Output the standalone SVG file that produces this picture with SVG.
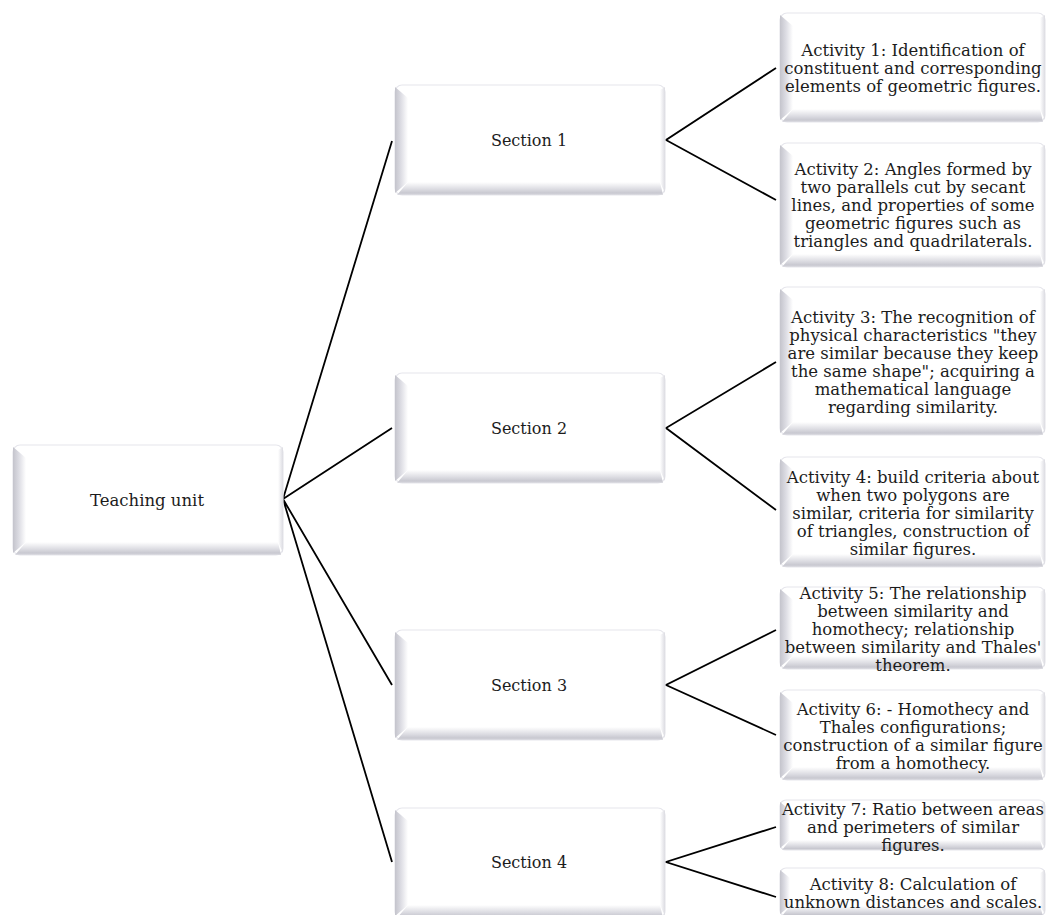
<svg xmlns="http://www.w3.org/2000/svg" width="1047" height="915" viewBox="0 0 1047 915">
<defs>
<linearGradient id="gL" x1="0" y1="0" x2="1" y2="0">
<stop offset="0" stop-color="#c4c4cc"/>
<stop offset="0.45" stop-color="#dcdce3"/>
<stop offset="1" stop-color="#ffffff"/>
</linearGradient>
<linearGradient id="gB" x1="0" y1="0" x2="0" y2="1">
<stop offset="0" stop-color="#ffffff"/>
<stop offset="0.55" stop-color="#dcdce2"/>
<stop offset="0.85" stop-color="#c8c8d0"/>
<stop offset="1" stop-color="#dedee4"/>
</linearGradient>
<linearGradient id="gR" x1="0" y1="0" x2="1" y2="0">
<stop offset="0" stop-color="#ffffff"/>
<stop offset="1" stop-color="#dcdce2"/>
</linearGradient>
</defs>
<style>
.box{fill:#ffffff;stroke:#e6e6ec;stroke-width:1.2}
.bl{fill:url(#gL)}
.bb{fill:url(#gB)}
.br{fill:url(#gR)}
.t{font-family:"DejaVu Serif","Liberation Serif",serif;font-size:16.5px;fill:#1c1c1c;text-anchor:middle}
.s{font-size:16px}
.c{stroke:#000000;stroke-width:1.8;fill:none;stroke-linejoin:miter}
</style>
<rect width="1047" height="915" fill="#ffffff"/>

<g id="connectors">
<path class="c" d="M283,499 L392,141 M283,499 L392,428 M283,499 L392,685 M283,499 L392,862"/>
<polyline class="c" points="776,68 666,140 776,200"/>
<polyline class="c" points="776,362 666,428 776,510"/>
<polyline class="c" points="776,630 666,685 776,735"/>
<polyline class="c" points="776,827 666,862 776,897"/>
</g>

<g id="teaching-unit">
<rect class="box" x="13" y="445" width="270" height="110" rx="7"/>
<polygon class="bl" points="13,447 26,458 26,542 13,553"/>
<polygon class="bb" points="15,555 26,542 278,542 281,555"/>
<polygon class="br" points="283,447 278,450 278,542 283,553"/>
<text class="t" x="147" y="506">Teaching unit</text>
</g>

<g id="section-1">
<rect class="box" x="395" y="85" width="270" height="110" rx="7"/>
<polygon class="bl" points="395,87 408,98 408,182 395,193"/>
<polygon class="bb" points="397,195 408,182 660,182 663,195"/>
<polygon class="br" points="665,87 660,90 660,182 665,193"/>
<text class="t s" x="529" y="146">Section 1</text>
</g>

<g id="section-2">
<rect class="box" x="395" y="373" width="270" height="110" rx="7"/>
<polygon class="bl" points="395,375 408,386 408,470 395,481"/>
<polygon class="bb" points="397,483 408,470 660,470 663,483"/>
<polygon class="br" points="665,375 660,378 660,470 665,481"/>
<text class="t s" x="529" y="434">Section 2</text>
</g>

<g id="section-3">
<rect class="box" x="395" y="630" width="270" height="110" rx="7"/>
<polygon class="bl" points="395,632 408,643 408,727 395,738"/>
<polygon class="bb" points="397,740 408,727 660,727 663,740"/>
<polygon class="br" points="665,632 660,635 660,727 665,738"/>
<text class="t s" x="529" y="691">Section 3</text>
</g>

<g id="section-4">
<rect class="box" x="395" y="808" width="270" height="110" rx="7"/>
<polygon class="bl" points="395,810 408,821 408,905 395,916"/>
<polygon class="bb" points="397,918 408,905 660,905 663,918"/>
<polygon class="br" points="665,810 660,813 660,905 665,916"/>
<text class="t s" x="529" y="868">Section 4</text>
</g>

<g id="activity-1">
<rect class="box" x="780" y="13" width="265" height="109" rx="7"/>
<polygon class="bl" points="780,15 793,26 793,109 780,120"/>
<polygon class="bb" points="782,122 793,109 1040,109 1043,122"/>
<polygon class="br" points="1045,15 1040,18 1040,109 1045,120"/>
<text class="t"><tspan x="913" y="56">Activity 1: Identification of</tspan><tspan x="913" y="74">constituent and corresponding</tspan><tspan x="913" y="92">elements of geometric figures.</tspan></text>
</g>

<g id="activity-2">
<rect class="box" x="780" y="143" width="265" height="124" rx="7"/>
<polygon class="bl" points="780,145 793,156 793,254 780,265"/>
<polygon class="bb" points="782,267 793,254 1040,254 1043,267"/>
<polygon class="br" points="1045,145 1040,148 1040,254 1045,265"/>
<text class="t"><tspan x="913" y="175">Activity 2: Angles formed by</tspan><tspan x="913" y="193">two parallels cut by secant</tspan><tspan x="913" y="211">lines, and properties of some</tspan><tspan x="913" y="229">geometric figures such as</tspan><tspan x="913" y="247">triangles and quadrilaterals.</tspan></text>
</g>

<g id="activity-3">
<rect class="box" x="780" y="287" width="265" height="148" rx="7"/>
<polygon class="bl" points="780,289 793,300 793,422 780,433"/>
<polygon class="bb" points="782,435 793,422 1040,422 1043,435"/>
<polygon class="br" points="1045,289 1040,292 1040,422 1045,433"/>
<text class="t"><tspan x="913" y="323">Activity 3: The recognition of</tspan><tspan x="913" y="341">physical characteristics "they</tspan><tspan x="913" y="359">are similar because they keep</tspan><tspan x="913" y="377">the same shape"; acquiring a</tspan><tspan x="913" y="395">mathematical language</tspan><tspan x="913" y="413">regarding similarity.</tspan></text>
</g>

<g id="activity-4">
<rect class="box" x="780" y="457" width="265" height="110" rx="7"/>
<polygon class="bl" points="780,459 793,470 793,554 780,565"/>
<polygon class="bb" points="782,567 793,554 1040,554 1043,567"/>
<polygon class="br" points="1045,459 1040,462 1040,554 1045,565"/>
<text class="t"><tspan x="913" y="483">Activity 4: build criteria about</tspan><tspan x="913" y="501">when two polygons are</tspan><tspan x="913" y="519">similar, criteria for similarity</tspan><tspan x="913" y="537">of triangles, construction of</tspan><tspan x="913" y="555">similar figures.</tspan></text>
</g>

<g id="activity-5">
<rect class="box" x="780" y="587" width="265" height="82" rx="7"/>
<polygon class="bl" points="780,589 793,600 793,656 780,667"/>
<polygon class="bb" points="782,669 793,656 1040,656 1043,669"/>
<polygon class="br" points="1045,589 1040,592 1040,656 1045,667"/>
<text class="t"><tspan x="913" y="599">Activity 5: The relationship</tspan><tspan x="913" y="617">between similarity and</tspan><tspan x="913" y="635">homothecy; relationship</tspan><tspan x="913" y="653">between similarity and Thales'</tspan><tspan x="913" y="671">theorem.</tspan></text>
</g>

<g id="activity-6">
<rect class="box" x="780" y="690" width="265" height="90" rx="7"/>
<polygon class="bl" points="780,692 793,703 793,767 780,778"/>
<polygon class="bb" points="782,780 793,767 1040,767 1043,780"/>
<polygon class="br" points="1045,692 1040,695 1040,767 1045,778"/>
<text class="t"><tspan x="913" y="715">Activity 6: - Homothecy and</tspan><tspan x="913" y="733">Thales configurations;</tspan><tspan x="913" y="751">construction of a similar figure</tspan><tspan x="913" y="769">from a homothecy.</tspan></text>
</g>

<g id="activity-7">
<rect class="box" x="780" y="800" width="265" height="50" rx="6"/>
<polygon class="bl" points="780,802 790,810 790,840 780,848"/>
<polygon class="bb" points="782,850 790,840 1040,840 1043,850"/>
<polygon class="br" points="1045,802 1040,805 1040,840 1045,848"/>
<text class="t"><tspan x="913" y="815">Activity 7: Ratio between areas</tspan><tspan x="913" y="833">and perimeters of similar</tspan><tspan x="913" y="851">figures.</tspan></text>
</g>

<g id="activity-8">
<rect class="box" x="780" y="868" width="265" height="48" rx="6"/>
<polygon class="bl" points="780,870 790,878 790,906 780,914"/>
<polygon class="bb" points="782,916 790,906 1040,906 1043,916"/>
<polygon class="br" points="1045,870 1040,873 1040,906 1045,914"/>
<text class="t"><tspan x="913" y="890">Activity 8: Calculation of</tspan><tspan x="913" y="908">unknown distances and scales.</tspan></text>
</g>
</svg>
